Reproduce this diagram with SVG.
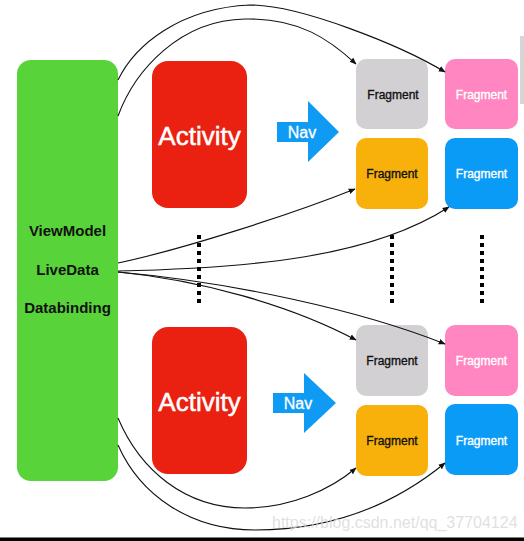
<svg xmlns="http://www.w3.org/2000/svg" width="524" height="541" viewBox="0 0 524 541">
<style>
.lbl{font-family:"Liberation Sans",Arial,sans-serif;text-anchor:middle}
.vm{font-size:15px;font-weight:bold;fill:#111}
.act{font-size:26px;fill:#fff;stroke:#fff;stroke-width:0.5}
.nav{font-size:16px;fill:#fff;stroke:#fff;stroke-width:0.3}
.frag{font-size:12px;stroke-width:0.35}
.dk{fill:#111;stroke:#111}
.wt{fill:#fff;stroke:#fff}
.conn{fill:none;stroke:#111;stroke-width:1.1;marker-end:url(#ah)}
.dots{stroke:#000;stroke-width:4;stroke-dasharray:4 4}
</style>
<defs>
<marker id="ah" viewBox="0 0 10 10" refX="9" refY="5" markerWidth="7" markerHeight="7" markerUnits="userSpaceOnUse" orient="auto">
<path d="M0,1 L10,5 L0,9 z" fill="#111"/>
</marker>
</defs>
<rect width="524" height="541" fill="#fff"/>
<g id="viewmodel">
<rect x="17" y="60" width="101" height="421" rx="14" fill="#58D33A"/>
<text class="lbl vm" x="67.5" y="236">ViewModel</text>
<text class="lbl vm" x="67.5" y="275">LiveData</text>
<text class="lbl vm" x="67.5" y="313">Databinding</text>
</g>
<g id="activity1">
<rect x="152" y="61" width="95" height="147" rx="16" fill="#EA2011"/>
<text class="lbl act" x="199.5" y="145">Activity</text>
</g>
<g id="activity2">
<rect x="152" y="327" width="95" height="147" rx="16" fill="#EA2011"/>
<text class="lbl act" x="199.5" y="411">Activity</text>
</g>
<g id="nav1">
<polygon points="277,122 308,122 308,101 339,132 308,162 308,142 277,142" fill="#0F9BF3"/>
<text class="lbl nav" x="302" y="138">Nav</text>
</g>
<g id="nav2">
<polygon points="273,393 304,393 304,373 336,403 304,433 304,413 273,413" fill="#0F9BF3"/>
<text class="lbl nav" x="298" y="409">Nav</text>
</g>
<g id="frag-gray1"><rect x="356" y="59" width="72" height="70" rx="10" fill="#D3D0D3"/><text class="lbl frag dk" x="393" y="99">Fragment</text></g>
<g id="frag-pink1"><rect x="445" y="59" width="73" height="70" rx="10" fill="#FF86C0"/><text class="lbl frag wt" x="481.5" y="99">Fragment</text></g>
<g id="frag-orange1"><rect x="356" y="138" width="72" height="71" rx="10" fill="#F8B10A"/><text class="lbl frag dk" x="392" y="178">Fragment</text></g>
<g id="frag-blue1"><rect x="445" y="138" width="73" height="71" rx="10" fill="#0A9BF7"/><text class="lbl frag wt" x="481.5" y="178">Fragment</text></g>
<g id="frag-gray2"><rect x="356" y="325" width="72" height="71" rx="10" fill="#D3D0D3"/><text class="lbl frag dk" x="392" y="365">Fragment</text></g>
<g id="frag-pink2"><rect x="445" y="325" width="73" height="71" rx="10" fill="#FF86C0"/><text class="lbl frag wt" x="481.5" y="365">Fragment</text></g>
<g id="frag-orange2"><rect x="356" y="405" width="72" height="71" rx="10" fill="#F8B10A"/><text class="lbl frag dk" x="392" y="445">Fragment</text></g>
<g id="frag-blue2"><rect x="445" y="404" width="73" height="71" rx="10" fill="#0A9BF7"/><text class="lbl frag wt" x="481.5" y="445">Fragment</text></g>
<g id="ellipses">
<line class="dots" x1="199" y1="235" x2="199" y2="303"/>
<line class="dots" x1="392" y1="235" x2="392" y2="303"/>
<line class="dots" x1="482" y1="235" x2="482" y2="303"/>
</g>
<g id="connectors">
<path class="conn" d="M118,80 C135,45 180,8 250,5 C300,5 400,45 445,72"/>
<path class="conn" d="M118,116 C135,70 180,20 245,19 C300,18 330,40 356,64"/>
<path class="conn" d="M118,263 C180,250 290,215 355,189"/>
<path class="conn" d="M118,271 C250,268 370,258 449,207"/>
<path class="conn" d="M118,272 C200,280 290,305 356,340"/>
<path class="conn" d="M118,272 C230,282 360,310 445,344"/>
<path class="conn" d="M118,418 C140,470 185,508 245,508 C290,508 330,490 356,468"/>
<path class="conn" d="M118,445 C140,495 190,530 255,530 C340,530 400,500 445,463"/>
</g>
<rect x="520" y="36" width="4" height="68" fill="#d6d6d6"/>
<text x="272" y="528" font-family="Liberation Sans,Arial,sans-serif" font-size="16" fill="#d8d8d8" fill-opacity="0.8">https://blog.csdn.net/qq_37704124</text>
<rect x="0" y="537.5" width="524" height="4" fill="#000"/>
</svg>
